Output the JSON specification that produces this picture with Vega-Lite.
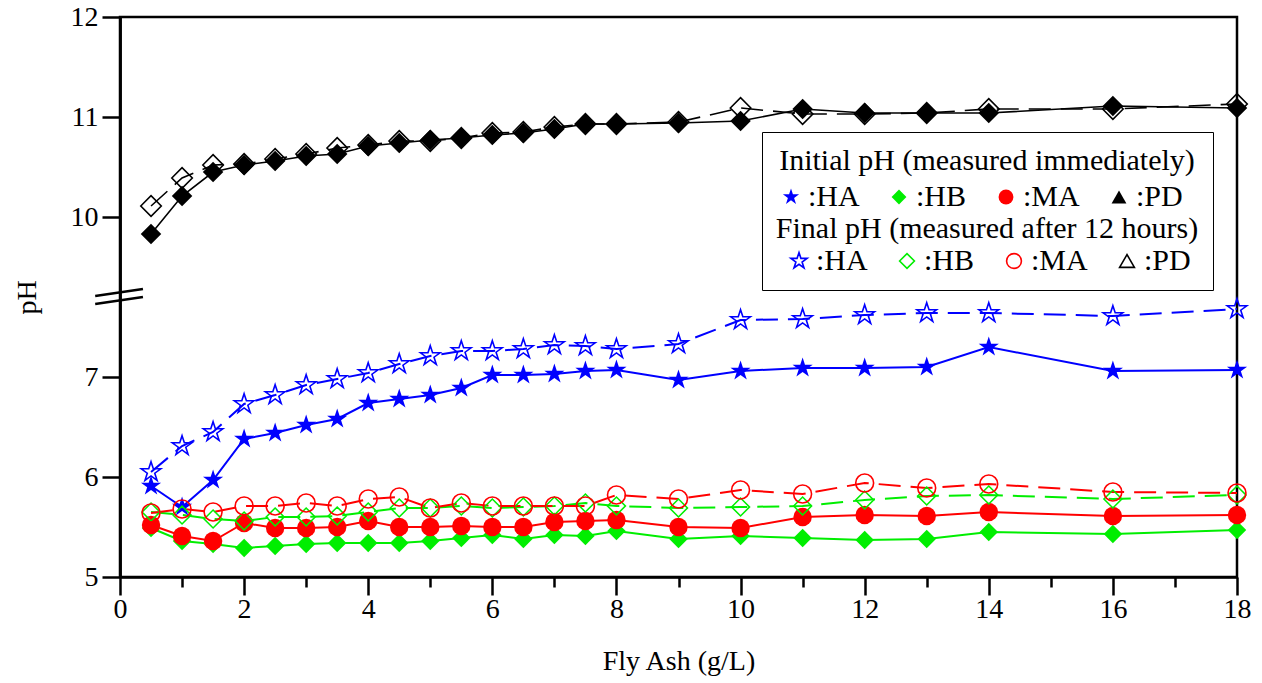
{
  "$schema": "https://vega.github.io/schema/vega-lite/v6.json",
  "width": 1117,
  "height": 560,
  "autosize": {"type": "none"},
  "padding": {"left": 120, "top": 17, "right": 25, "bottom": 106},
  "background": "white",
  "config": {
    "font": "Liberation Serif",
    "view": {"stroke": "black", "strokeWidth": 2.5},
    "axis": {
      "labelFont": "Liberation Serif", "titleFont": "Liberation Serif",
      "labelFontSize": 28, "titleFontSize": 28, "titleFontWeight": "normal",
      "labelColor": "black", "titleColor": "black",
      "domainColor": "black", "domainWidth": 2.5,
      "tickColor": "black", "tickWidth": 2.5, "grid": false
    },
    "legend": {
      "labelFont": "Liberation Serif", "titleFont": "Liberation Serif",
      "labelFontSize": 30, "titleFontSize": 30, "titleFontWeight": "normal",
      "labelColor": "black", "titleColor": "black",
      "labelLimit": 300, "titleLimit": 1000
    }
  },
  "data": {
    "values": [
      {"fa": 0.5, "sample": "HA", "stage": "Initial", "ph": 5.91},
      {"fa": 1, "sample": "HA", "stage": "Initial", "ph": 5.70},
      {"fa": 1.5, "sample": "HA", "stage": "Initial", "ph": 5.97},
      {"fa": 2, "sample": "HA", "stage": "Initial", "ph": 6.38},
      {"fa": 2.5, "sample": "HA", "stage": "Initial", "ph": 6.44},
      {"fa": 3, "sample": "HA", "stage": "Initial", "ph": 6.52},
      {"fa": 3.5, "sample": "HA", "stage": "Initial", "ph": 6.58},
      {"fa": 4, "sample": "HA", "stage": "Initial", "ph": 6.74},
      {"fa": 4.5, "sample": "HA", "stage": "Initial", "ph": 6.78},
      {"fa": 5, "sample": "HA", "stage": "Initial", "ph": 6.82},
      {"fa": 5.5, "sample": "HA", "stage": "Initial", "ph": 6.89},
      {"fa": 6, "sample": "HA", "stage": "Initial", "ph": 7.02},
      {"fa": 6.5, "sample": "HA", "stage": "Initial", "ph": 7.02},
      {"fa": 7, "sample": "HA", "stage": "Initial", "ph": 7.03},
      {"fa": 7.5, "sample": "HA", "stage": "Initial", "ph": 7.06},
      {"fa": 8, "sample": "HA", "stage": "Initial", "ph": 7.07},
      {"fa": 9, "sample": "HA", "stage": "Initial", "ph": 6.97},
      {"fa": 10, "sample": "HA", "stage": "Initial", "ph": 7.06},
      {"fa": 11, "sample": "HA", "stage": "Initial", "ph": 7.09},
      {"fa": 12, "sample": "HA", "stage": "Initial", "ph": 7.09},
      {"fa": 13, "sample": "HA", "stage": "Initial", "ph": 7.10},
      {"fa": 14, "sample": "HA", "stage": "Initial", "ph": 7.30},
      {"fa": 16, "sample": "HA", "stage": "Initial", "ph": 7.06},
      {"fa": 18, "sample": "HA", "stage": "Initial", "ph": 7.07},

      {"fa": 0.5, "sample": "HA", "stage": "Final", "ph": 6.05},
      {"fa": 1, "sample": "HA", "stage": "Final", "ph": 6.31},
      {"fa": 1.5, "sample": "HA", "stage": "Final", "ph": 6.45},
      {"fa": 2, "sample": "HA", "stage": "Final", "ph": 6.73},
      {"fa": 2.5, "sample": "HA", "stage": "Final", "ph": 6.82},
      {"fa": 3, "sample": "HA", "stage": "Final", "ph": 6.92},
      {"fa": 3.5, "sample": "HA", "stage": "Final", "ph": 6.98},
      {"fa": 4, "sample": "HA", "stage": "Final", "ph": 7.04},
      {"fa": 4.5, "sample": "HA", "stage": "Final", "ph": 7.13},
      {"fa": 5, "sample": "HA", "stage": "Final", "ph": 7.21},
      {"fa": 5.5, "sample": "HA", "stage": "Final", "ph": 7.26},
      {"fa": 6, "sample": "HA", "stage": "Final", "ph": 7.26},
      {"fa": 6.5, "sample": "HA", "stage": "Final", "ph": 7.28},
      {"fa": 7, "sample": "HA", "stage": "Final", "ph": 7.32},
      {"fa": 7.5, "sample": "HA", "stage": "Final", "ph": 7.31},
      {"fa": 8, "sample": "HA", "stage": "Final", "ph": 7.28},
      {"fa": 9, "sample": "HA", "stage": "Final", "ph": 7.33},
      {"fa": 10, "sample": "HA", "stage": "Final", "ph": 7.57},
      {"fa": 11, "sample": "HA", "stage": "Final", "ph": 7.58},
      {"fa": 12, "sample": "HA", "stage": "Final", "ph": 7.62},
      {"fa": 13, "sample": "HA", "stage": "Final", "ph": 7.64},
      {"fa": 14, "sample": "HA", "stage": "Final", "ph": 7.64},
      {"fa": 16, "sample": "HA", "stage": "Final", "ph": 7.61},
      {"fa": 18, "sample": "HA", "stage": "Final", "ph": 7.68},

      {"fa": 0.5, "sample": "HB", "stage": "Initial", "ph": 5.49},
      {"fa": 1, "sample": "HB", "stage": "Initial", "ph": 5.36},
      {"fa": 1.5, "sample": "HB", "stage": "Initial", "ph": 5.33},
      {"fa": 2, "sample": "HB", "stage": "Initial", "ph": 5.29},
      {"fa": 2.5, "sample": "HB", "stage": "Initial", "ph": 5.31},
      {"fa": 3, "sample": "HB", "stage": "Initial", "ph": 5.33},
      {"fa": 3.5, "sample": "HB", "stage": "Initial", "ph": 5.34},
      {"fa": 4, "sample": "HB", "stage": "Initial", "ph": 5.34},
      {"fa": 4.5, "sample": "HB", "stage": "Initial", "ph": 5.34},
      {"fa": 5, "sample": "HB", "stage": "Initial", "ph": 5.36},
      {"fa": 5.5, "sample": "HB", "stage": "Initial", "ph": 5.39},
      {"fa": 6, "sample": "HB", "stage": "Initial", "ph": 5.42},
      {"fa": 6.5, "sample": "HB", "stage": "Initial", "ph": 5.38},
      {"fa": 7, "sample": "HB", "stage": "Initial", "ph": 5.42},
      {"fa": 7.5, "sample": "HB", "stage": "Initial", "ph": 5.41},
      {"fa": 8, "sample": "HB", "stage": "Initial", "ph": 5.46},
      {"fa": 9, "sample": "HB", "stage": "Initial", "ph": 5.38},
      {"fa": 10, "sample": "HB", "stage": "Initial", "ph": 5.41},
      {"fa": 11, "sample": "HB", "stage": "Initial", "ph": 5.39},
      {"fa": 12, "sample": "HB", "stage": "Initial", "ph": 5.37},
      {"fa": 13, "sample": "HB", "stage": "Initial", "ph": 5.38},
      {"fa": 14, "sample": "HB", "stage": "Initial", "ph": 5.45},
      {"fa": 16, "sample": "HB", "stage": "Initial", "ph": 5.43},
      {"fa": 18, "sample": "HB", "stage": "Initial", "ph": 5.47},

      {"fa": 0.5, "sample": "HB", "stage": "Final", "ph": 5.65},
      {"fa": 1, "sample": "HB", "stage": "Final", "ph": 5.62},
      {"fa": 1.5, "sample": "HB", "stage": "Final", "ph": 5.58},
      {"fa": 2, "sample": "HB", "stage": "Final", "ph": 5.56},
      {"fa": 2.5, "sample": "HB", "stage": "Final", "ph": 5.60},
      {"fa": 3, "sample": "HB", "stage": "Final", "ph": 5.60},
      {"fa": 3.5, "sample": "HB", "stage": "Final", "ph": 5.61},
      {"fa": 4, "sample": "HB", "stage": "Final", "ph": 5.65},
      {"fa": 4.5, "sample": "HB", "stage": "Final", "ph": 5.69},
      {"fa": 5, "sample": "HB", "stage": "Final", "ph": 5.69},
      {"fa": 5.5, "sample": "HB", "stage": "Final", "ph": 5.71},
      {"fa": 6, "sample": "HB", "stage": "Final", "ph": 5.69},
      {"fa": 6.5, "sample": "HB", "stage": "Final", "ph": 5.70},
      {"fa": 7, "sample": "HB", "stage": "Final", "ph": 5.71},
      {"fa": 7.5, "sample": "HB", "stage": "Final", "ph": 5.74},
      {"fa": 8, "sample": "HB", "stage": "Final", "ph": 5.71},
      {"fa": 9, "sample": "HB", "stage": "Final", "ph": 5.69},
      {"fa": 10, "sample": "HB", "stage": "Final", "ph": 5.70},
      {"fa": 11, "sample": "HB", "stage": "Final", "ph": 5.71},
      {"fa": 12, "sample": "HB", "stage": "Final", "ph": 5.77},
      {"fa": 13, "sample": "HB", "stage": "Final", "ph": 5.81},
      {"fa": 14, "sample": "HB", "stage": "Final", "ph": 5.82},
      {"fa": 16, "sample": "HB", "stage": "Final", "ph": 5.78},
      {"fa": 18, "sample": "HB", "stage": "Final", "ph": 5.82},

      {"fa": 0.5, "sample": "MA", "stage": "Initial", "ph": 5.52},
      {"fa": 1, "sample": "MA", "stage": "Initial", "ph": 5.41},
      {"fa": 1.5, "sample": "MA", "stage": "Initial", "ph": 5.36},
      {"fa": 2, "sample": "MA", "stage": "Initial", "ph": 5.54},
      {"fa": 2.5, "sample": "MA", "stage": "Initial", "ph": 5.49},
      {"fa": 3, "sample": "MA", "stage": "Initial", "ph": 5.49},
      {"fa": 3.5, "sample": "MA", "stage": "Initial", "ph": 5.50},
      {"fa": 4, "sample": "MA", "stage": "Initial", "ph": 5.56},
      {"fa": 4.5, "sample": "MA", "stage": "Initial", "ph": 5.50},
      {"fa": 5, "sample": "MA", "stage": "Initial", "ph": 5.50},
      {"fa": 5.5, "sample": "MA", "stage": "Initial", "ph": 5.51},
      {"fa": 6, "sample": "MA", "stage": "Initial", "ph": 5.50},
      {"fa": 6.5, "sample": "MA", "stage": "Initial", "ph": 5.50},
      {"fa": 7, "sample": "MA", "stage": "Initial", "ph": 5.55},
      {"fa": 7.5, "sample": "MA", "stage": "Initial", "ph": 5.56},
      {"fa": 8, "sample": "MA", "stage": "Initial", "ph": 5.57},
      {"fa": 9, "sample": "MA", "stage": "Initial", "ph": 5.50},
      {"fa": 10, "sample": "MA", "stage": "Initial", "ph": 5.49},
      {"fa": 11, "sample": "MA", "stage": "Initial", "ph": 5.60},
      {"fa": 12, "sample": "MA", "stage": "Initial", "ph": 5.62},
      {"fa": 13, "sample": "MA", "stage": "Initial", "ph": 5.61},
      {"fa": 14, "sample": "MA", "stage": "Initial", "ph": 5.65},
      {"fa": 16, "sample": "MA", "stage": "Initial", "ph": 5.61},
      {"fa": 18, "sample": "MA", "stage": "Initial", "ph": 5.62},

      {"fa": 0.5, "sample": "MA", "stage": "Final", "ph": 5.64},
      {"fa": 1, "sample": "MA", "stage": "Final", "ph": 5.68},
      {"fa": 1.5, "sample": "MA", "stage": "Final", "ph": 5.65},
      {"fa": 2, "sample": "MA", "stage": "Final", "ph": 5.71},
      {"fa": 2.5, "sample": "MA", "stage": "Final", "ph": 5.71},
      {"fa": 3, "sample": "MA", "stage": "Final", "ph": 5.74},
      {"fa": 3.5, "sample": "MA", "stage": "Final", "ph": 5.71},
      {"fa": 4, "sample": "MA", "stage": "Final", "ph": 5.78},
      {"fa": 4.5, "sample": "MA", "stage": "Final", "ph": 5.80},
      {"fa": 5, "sample": "MA", "stage": "Final", "ph": 5.69},
      {"fa": 5.5, "sample": "MA", "stage": "Final", "ph": 5.74},
      {"fa": 6, "sample": "MA", "stage": "Final", "ph": 5.71},
      {"fa": 6.5, "sample": "MA", "stage": "Final", "ph": 5.71},
      {"fa": 7, "sample": "MA", "stage": "Final", "ph": 5.71},
      {"fa": 7.5, "sample": "MA", "stage": "Final", "ph": 5.71},
      {"fa": 8, "sample": "MA", "stage": "Final", "ph": 5.82},
      {"fa": 9, "sample": "MA", "stage": "Final", "ph": 5.78},
      {"fa": 10, "sample": "MA", "stage": "Final", "ph": 5.87},
      {"fa": 11, "sample": "MA", "stage": "Final", "ph": 5.83},
      {"fa": 12, "sample": "MA", "stage": "Final", "ph": 5.94},
      {"fa": 13, "sample": "MA", "stage": "Final", "ph": 5.89},
      {"fa": 14, "sample": "MA", "stage": "Final", "ph": 5.93},
      {"fa": 16, "sample": "MA", "stage": "Final", "ph": 5.85},
      {"fa": 18, "sample": "MA", "stage": "Final", "ph": 5.84},

      {"fa": 0.5, "sample": "PD", "stage": "Initial", "ph": 9.83},
      {"fa": 1, "sample": "PD", "stage": "Initial", "ph": 10.21},
      {"fa": 1.5, "sample": "PD", "stage": "Initial", "ph": 10.45},
      {"fa": 2, "sample": "PD", "stage": "Initial", "ph": 10.52},
      {"fa": 2.5, "sample": "PD", "stage": "Initial", "ph": 10.56},
      {"fa": 3, "sample": "PD", "stage": "Initial", "ph": 10.61},
      {"fa": 3.5, "sample": "PD", "stage": "Initial", "ph": 10.63},
      {"fa": 4, "sample": "PD", "stage": "Initial", "ph": 10.71},
      {"fa": 4.5, "sample": "PD", "stage": "Initial", "ph": 10.74},
      {"fa": 5, "sample": "PD", "stage": "Initial", "ph": 10.77},
      {"fa": 5.5, "sample": "PD", "stage": "Initial", "ph": 10.79},
      {"fa": 6, "sample": "PD", "stage": "Initial", "ph": 10.82},
      {"fa": 6.5, "sample": "PD", "stage": "Initial", "ph": 10.84},
      {"fa": 7, "sample": "PD", "stage": "Initial", "ph": 10.88},
      {"fa": 7.5, "sample": "PD", "stage": "Initial", "ph": 10.93},
      {"fa": 8, "sample": "PD", "stage": "Initial", "ph": 10.93},
      {"fa": 9, "sample": "PD", "stage": "Initial", "ph": 10.94},
      {"fa": 10, "sample": "PD", "stage": "Initial", "ph": 10.96},
      {"fa": 11, "sample": "PD", "stage": "Initial", "ph": 11.08},
      {"fa": 12, "sample": "PD", "stage": "Initial", "ph": 11.04},
      {"fa": 13, "sample": "PD", "stage": "Initial", "ph": 11.04},
      {"fa": 14, "sample": "PD", "stage": "Initial", "ph": 11.04},
      {"fa": 16, "sample": "PD", "stage": "Initial", "ph": 11.11},
      {"fa": 18, "sample": "PD", "stage": "Initial", "ph": 11.09},

      {"fa": 0.5, "sample": "PD", "stage": "Final", "ph": 10.11},
      {"fa": 1, "sample": "PD", "stage": "Final", "ph": 10.39},
      {"fa": 1.5, "sample": "PD", "stage": "Final", "ph": 10.52},
      {"fa": 2, "sample": "PD", "stage": "Final", "ph": 10.53},
      {"fa": 2.5, "sample": "PD", "stage": "Final", "ph": 10.58},
      {"fa": 3, "sample": "PD", "stage": "Final", "ph": 10.63},
      {"fa": 3.5, "sample": "PD", "stage": "Final", "ph": 10.69},
      {"fa": 4, "sample": "PD", "stage": "Final", "ph": 10.72},
      {"fa": 4.5, "sample": "PD", "stage": "Final", "ph": 10.76},
      {"fa": 5, "sample": "PD", "stage": "Final", "ph": 10.76},
      {"fa": 5.5, "sample": "PD", "stage": "Final", "ph": 10.79},
      {"fa": 6, "sample": "PD", "stage": "Final", "ph": 10.84},
      {"fa": 6.5, "sample": "PD", "stage": "Final", "ph": 10.85},
      {"fa": 7, "sample": "PD", "stage": "Final", "ph": 10.90},
      {"fa": 7.5, "sample": "PD", "stage": "Final", "ph": 10.93},
      {"fa": 8, "sample": "PD", "stage": "Final", "ph": 10.93},
      {"fa": 9, "sample": "PD", "stage": "Final", "ph": 10.95},
      {"fa": 10, "sample": "PD", "stage": "Final", "ph": 11.09},
      {"fa": 11, "sample": "PD", "stage": "Final", "ph": 11.03},
      {"fa": 12, "sample": "PD", "stage": "Final", "ph": 11.03},
      {"fa": 13, "sample": "PD", "stage": "Final", "ph": 11.04},
      {"fa": 14, "sample": "PD", "stage": "Final", "ph": 11.08},
      {"fa": 16, "sample": "PD", "stage": "Final", "ph": 11.08},
      {"fa": 18, "sample": "PD", "stage": "Final", "ph": 11.13}
    ]
  },
  "layer": [
    {
      "transform": [{"filter": "datum.stage === 'Initial' && datum.sample !== 'PD'"}],
      "mark": {"type": "line", "strokeWidth": 2},
      "encoding": {
        "x": {
          "field": "fa", "type": "quantitative",
          "scale": {"domain": [0, 18], "nice": false, "zero": false},
          "axis": {
            "title": "Fly Ash (g/L)", "orient": "bottom",
            "values": [0, 2, 4, 6, 8, 10, 12, 14, 16, 18],
            "tickSize": 18, "labelPadding": 0, "labelFlush": false, "labelOverlap": false,
            "titlePadding": 24
          }
        },
        "y": {
          "field": "ph", "type": "quantitative",
          "scale": {"domain": [5, 10.6], "nice": false, "zero": false},
          "axis": {
            "title": "pH", "orient": "left",
            "values": [5, 6, 7], "tickSize": 18, "labelPadding": 4,
            "labelFlush": false, "labelOverlap": false, "titlePadding": 43
          }
        },
        "color": {
          "field": "sample", "type": "nominal",
          "scale": {"domain": ["HA", "HB", "MA", "PD"], "range": ["#0000ff", "#00ee00", "#ff0000", "#000000"]},
          "legend": null
        }
      }
    },
    {
      "transform": [{"filter": "datum.stage === 'Final' && datum.sample !== 'PD'"}],
      "mark": {"type": "line", "strokeWidth": 2, "strokeDash": [22, 10]},
      "encoding": {
        "x": {"field": "fa", "type": "quantitative", "scale": {"domain": [0, 18], "nice": false, "zero": false}, "axis": null},
        "y": {"field": "ph", "type": "quantitative", "scale": {"domain": [5, 10.6], "nice": false, "zero": false}, "axis": null},
        "color": {
          "field": "sample", "type": "nominal",
          "scale": {"domain": ["HA", "HB", "MA", "PD"], "range": ["#0000ff", "#00ee00", "#ff0000", "#000000"]},
          "legend": null
        }
      }
    },
    {
      "transform": [{"filter": "datum.stage === 'Initial' && datum.sample === 'PD'"}],
      "mark": {"type": "line", "strokeWidth": 1.6, "color": "#000000"},
      "encoding": {
        "x": {"field": "fa", "type": "quantitative", "scale": {"domain": [0, 18], "nice": false, "zero": false}, "axis": null},
        "y": {
          "field": "ph", "type": "quantitative",
          "scale": {"domain": [6.4, 12], "nice": false, "zero": false},
          "axis": {
            "title": null, "orient": "left",
            "values": [10, 11, 12], "tickSize": 18, "labelPadding": 4,
            "labelFlush": false, "labelOverlap": false
          }
        }
      }
    },
    {
      "transform": [{"filter": "datum.stage === 'Final' && datum.sample === 'PD'"}],
      "mark": {"type": "line", "strokeWidth": 1.6, "color": "#000000", "strokeDash": [22, 10]},
      "encoding": {
        "x": {"field": "fa", "type": "quantitative", "scale": {"domain": [0, 18], "nice": false, "zero": false}, "axis": null},
        "y": {"field": "ph", "type": "quantitative", "scale": {"domain": [6.4, 12], "nice": false, "zero": false}, "axis": null}
      }
    },
    {
      "transform": [{"filter": "datum.stage === 'Initial' && datum.sample !== 'PD'"}],
      "mark": {"type": "point", "filled": true, "opacity": 1, "size": 340},
      "encoding": {
        "x": {"field": "fa", "type": "quantitative", "scale": {"domain": [0, 18], "nice": false, "zero": false}, "axis": null},
        "y": {"field": "ph", "type": "quantitative", "scale": {"domain": [5, 10.6], "nice": false, "zero": false}, "axis": null},
        "color": {
          "field": "sample", "type": "nominal",
          "scale": {"domain": ["HA", "HB", "MA", "PD"], "range": ["#0000ff", "#00ee00", "#ff0000", "#000000"]},
          "legend": {
            "title": null, "orient": "none", "legendX": 656, "legendY": 165,
            "direction": "horizontal", "columns": 4, "columnPadding": 24,
            "labelExpr": "':' + datum.label", "symbolSize": 220, "padding": 0, "labelOffset": 2,
            "labelFontSize": 30, "labelLimit": 300
          }
        },
        "shape": {
          "field": "sample", "type": "nominal",
          "scale": {
            "domain": ["HA", "HB", "MA", "PD"],
            "range": ["M0,-1.15L0.2582,-0.3554L1.0938,-0.3554L0.4178,0.1357L0.676,0.9304L0,0.4393L-0.676,0.9304L-0.4178,0.1357L-1.0938,-0.3554L-0.2582,-0.3554Z", "diamond", "circle", "triangle-up"]
          },
          "legend": {
            "title": null, "orient": "none", "legendX": 656, "legendY": 165,
            "direction": "horizontal", "columns": 4, "columnPadding": 24,
            "labelExpr": "':' + datum.label", "symbolSize": 220, "padding": 0, "labelOffset": 2,
            "labelFontSize": 30, "labelLimit": 300
          }
        }
      }
    },
    {
      "transform": [{"filter": "datum.stage === 'Initial' && datum.sample === 'PD'"}],
      "mark": {"type": "point", "shape": "diamond", "filled": true, "opacity": 1, "color": "#000000", "size": 420},
      "encoding": {
        "x": {"field": "fa", "type": "quantitative", "scale": {"domain": [0, 18], "nice": false, "zero": false}, "axis": null},
        "y": {"field": "ph", "type": "quantitative", "scale": {"domain": [6.4, 12], "nice": false, "zero": false}, "axis": null}
      }
    },
    {
      "transform": [{"filter": "datum.stage === 'Final' && datum.sample !== 'PD'"}],
      "mark": {"type": "point", "filled": false, "opacity": 1, "strokeWidth": 1.6, "size": 320},
      "encoding": {
        "x": {"field": "fa", "type": "quantitative", "scale": {"domain": [0, 18], "nice": false, "zero": false}, "axis": null},
        "y": {"field": "ph", "type": "quantitative", "scale": {"domain": [5, 10.6], "nice": false, "zero": false}, "axis": null},
        "color": {
          "field": "sample", "type": "nominal",
          "scale": {"domain": ["HA", "HB", "MA", "PD"], "range": ["#0000ff", "#00ee00", "#ff0000", "#000000"]},
          "legend": {
            "title": ["Initial pH (measured immediately)", "\u200b", "Final pH (measured after 12 hours)"],
            "orient": "none", "legendX": 642, "legendY": 115,
            "direction": "horizontal", "columns": 4, "columnPadding": 24,
            "labelExpr": "':' + datum.label", "symbolSize": 220, "padding": 14,
            "strokeColor": "black", "titleAnchor": "middle", "titleLineHeight": 34, "titlePadding": 2,
            "symbolStrokeWidth": 1.6, "labelOffset": 2,
            "labelFontSize": 30, "titleFontSize": 30, "labelLimit": 300, "titleLimit": 1000
          }
        },
        "shape": {
          "field": "sample", "type": "nominal",
          "scale": {
            "domain": ["HA", "HB", "MA", "PD"],
            "range": ["M0,-1.15L0.2582,-0.3554L1.0938,-0.3554L0.4178,0.1357L0.676,0.9304L0,0.4393L-0.676,0.9304L-0.4178,0.1357L-1.0938,-0.3554L-0.2582,-0.3554Z", "diamond", "circle", "triangle-up"]
          },
          "legend": {
            "title": ["Initial pH (measured immediately)", "\u200b", "Final pH (measured after 12 hours)"],
            "orient": "none", "legendX": 642, "legendY": 115,
            "direction": "horizontal", "columns": 4, "columnPadding": 24,
            "labelExpr": "':' + datum.label", "symbolSize": 220, "padding": 14,
            "strokeColor": "black", "titleAnchor": "middle", "titleLineHeight": 34, "titlePadding": 2,
            "symbolStrokeWidth": 1.6, "labelOffset": 2,
            "labelFontSize": 30, "titleFontSize": 30, "labelLimit": 300, "titleLimit": 1000
          }
        }
      }
    },
    {
      "transform": [{"filter": "datum.stage === 'Final' && datum.sample === 'PD'"}],
      "mark": {"type": "point", "shape": "diamond", "filled": false, "opacity": 1, "color": "#000000", "strokeWidth": 1.6, "size": 420},
      "encoding": {
        "x": {
          "field": "fa", "type": "quantitative",
          "scale": {"domain": [0, 18], "nice": false, "zero": false},
          "axis": {
            "title": null, "orient": "bottom", "values": [1, 3, 5, 7, 9, 11, 13, 15, 17],
            "tickSize": 10, "labels": false, "domain": false
          }
        },
        "y": {"field": "ph", "type": "quantitative", "scale": {"domain": [6.4, 12], "nice": false, "zero": false}, "axis": null}
      }
    },
    {
      "data": {"values": [{}]},
      "mark": {"type": "rule", "color": "black", "strokeWidth": 2.5, "clip": false},
      "encoding": {
        "x": {"datum": -0.4, "type": "quantitative", "scale": {"domain": [0, 18], "nice": false, "zero": false}, "axis": null},
        "x2": {"datum": 0.37},
        "y": {"datum": 7.73, "type": "quantitative", "scale": {"domain": [5, 10.6], "nice": false, "zero": false}, "axis": null},
        "y2": {"datum": 7.80}
      }
    },
    {
      "data": {"values": [{}]},
      "mark": {"type": "rule", "color": "black", "strokeWidth": 2.5, "clip": false},
      "encoding": {
        "x": {"datum": -0.4, "type": "quantitative", "scale": {"domain": [0, 18], "nice": false, "zero": false}, "axis": null},
        "x2": {"datum": 0.37},
        "y": {"datum": 7.81, "type": "quantitative", "scale": {"domain": [5, 10.6], "nice": false, "zero": false}, "axis": null},
        "y2": {"datum": 7.88}
      }
    }
  ],
  "resolve": {
    "scale": {"x": "independent", "y": "independent", "color": "independent", "shape": "independent"},
    "axis": {"x": "independent", "y": "independent"}
  }
}
